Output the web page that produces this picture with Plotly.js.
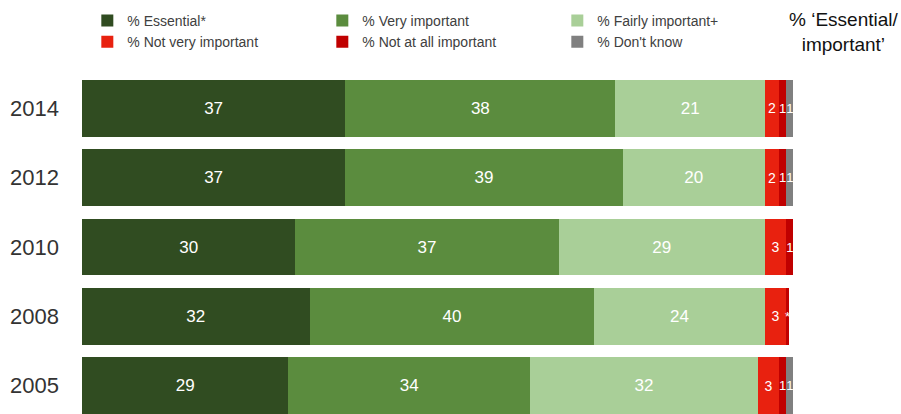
<!DOCTYPE html>
<html>
<head>
<meta charset="utf-8">
<script src="https://cdn.plot.ly/plotly-3.0.1.min.js"></script>
<style>html,body{margin:0;padding:0;background:#fff;}#chart{width:901px;height:414px;}</style>
</head>
<body>
<div id="chart"></div>
<script>
var years = ['2014', '2012', '2010', '2008', '2005'];
var essential = [37, 37, 30, 32, 29];
var veryImportant = [38, 39, 37, 40, 34];
var fairlyImportant = [21, 20, 29, 24, 32];
var notVeryImportant = [2, 2, 3, 3, 3];
var notAtAllImportant = [1, 1, 1, 0.4, 1];
var notAtAllLabels = ['1', '1', '1', '*', '1'];
var dontKnow = [1, 1, null, null, 1];
var totals = [96, 96, 96, 97, 95];

var seriesNames = ['% Essential*', '% Very important', '% Fairly important+', '% Not very important', '% Not at all important', "% Don't know"];
var seriesValues = [essential, veryImportant, fairlyImportant, notVeryImportant, notAtAllImportant, dontKnow];
var seriesColors = ['#304c21', '#5b8c3e', '#a9cf98', '#e8210f', '#c00000', '#808080'];
var labelSizes = [17, 17, 17, 14, 13, 13];

var font = '"Liberation Sans", Arial, sans-serif';

var traces = seriesValues.map(function (vals, i) {
  var labels = (i === 4) ? notAtAllLabels : vals.map(function (v) { return v == null ? '' : String(v); });
  return {
    type: 'bar',
    orientation: 'h',
    name: seriesNames[i],
    y: years,
    x: vals,
    text: labels,
    textposition: 'inside',
    insidetextanchor: 'middle',
    textangle: 0,
    constraintext: 'none',
    insidetextfont: {family: font, size: labelSizes[i], color: '#ffffff'},
    marker: {color: seriesColors[i], line: {width: 0}},
    hoverinfo: 'skip'
  };
});

var annotations = years.map(function (y, i) {
  return {
    x: 106, y: y, xref: 'x', yref: 'y',
    text: String(totals[i]),
    showarrow: false,
    font: {family: font, size: 18, color: '#222222'},
    xanchor: 'center', yanchor: 'middle'
  };
});
annotations.push({
  x: (843 - 82) / 817.6, y: 1 + (60 - 32) / 354, xref: 'paper', yref: 'paper',
  text: '% \u2018Essential/<br>important\u2019',
  showarrow: false,
  font: {family: font, size: 19, color: '#111111'},
  xanchor: 'center', yanchor: 'middle'
});

var layout = {
  width: 901,
  height: 414,
  margin: {l: 82, r: 1.4, t: 60, b: 0, pad: 0},
  paper_bgcolor: '#ffffff',
  plot_bgcolor: '#ffffff',
  barmode: 'stack',
  bargap: 0.18,
  showlegend: true,
  legend: {
    orientation: 'h',
    x: 0.0065, y: 1 + 55 / 354,
    xanchor: 'left', yanchor: 'top',
    entrywidth: 190, entrywidthmode: 'pixels',
    font: {family: font, size: 14, color: '#404040'},
    traceorder: 'normal',
    tracegroupgap: 0,
    bgcolor: 'rgba(0,0,0,0)'
  },
  xaxis: {
    range: [0, 115],
    showgrid: false, zeroline: false, showline: false,
    showticklabels: false, ticks: '', fixedrange: true
  },
  yaxis: {
    type: 'category',
    categoryorder: 'array',
    categoryarray: years,
    range: [4.41, -0.70],
    showgrid: false, zeroline: false, showline: false,
    ticks: '',
    ticklabelstandoff: 22,
    tickfont: {family: font, size: 22, color: '#333333'},
    fixedrange: true
  },
  annotations: annotations,
  font: {family: font}
};

Plotly.newPlot('chart', traces, layout, {displayModeBar: false, staticPlot: true});
</script>
</body>
</html>
